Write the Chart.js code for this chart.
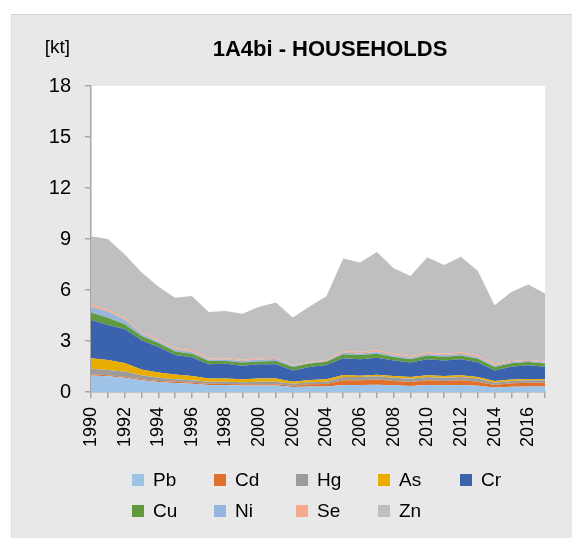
<!DOCTYPE html>
<html><head><meta charset="utf-8">
<script src="https://cdn.jsdelivr.net/npm/chart.js@4/dist/chart.umd.min.js"></script>
<style>
html,body{margin:0;padding:0;background:#fff;}
#wrap{position:relative;width:572px;height:538px;overflow:hidden;}
#bg{position:absolute;left:11px;top:14px;right:0;bottom:0;background:#e8e8e8;border-top:1px solid #d3d3d3;border-left:1px solid #dcdcdc;}
#c{position:absolute;left:0;top:0;}
#legend{position:absolute;left:132px;top:468px;display:grid;grid-template-columns:repeat(5,82px);grid-auto-rows:31px;font-family:'Liberation Sans Narrow','Arial Narrow','Liberation Sans',sans-serif;font-size:19px;color:#000;}
.item{display:flex;align-items:center;height:24px;white-space:nowrap;}
.sw{width:12px;height:12px;margin-right:9px;flex:none;}
</style></head>
<body><div id="wrap"><div id="bg"></div><canvas id="c" width="572" height="538"></canvas><div id="legend"></div></div>
<script>
const years = ['1990','1991','1992','1993','1994','1995','1996','1997','1998','1999','2000','2001','2002','2003','2004','2005','2006','2007','2008','2009','2010','2011','2012','2013','2014','2015','2016','2017'];
const yTicks = [0,3,6,9,12,15,18];
const seriesNames = ['Pb','Cd','Hg','As','Cr','Cu','Ni','Se','Zn'];
const Pb = [0.97,0.92,0.84,0.69,0.59,0.53,0.49,0.41,0.41,0.38,0.38,0.38,0.29,0.33,0.33,0.41,0.41,0.43,0.39,0.35,0.41,0.39,0.41,0.37,0.27,0.31,0.33,0.33];
const Cd = [0.07,0.06,0.06,0.06,0.06,0.07,0.06,0.08,0.06,0.07,0.07,0.07,0.08,0.12,0.14,0.28,0.28,0.30,0.26,0.24,0.28,0.26,0.28,0.24,0.14,0.20,0.22,0.22];
const Hg = [0.33,0.31,0.30,0.23,0.19,0.15,0.14,0.12,0.14,0.12,0.16,0.16,0.12,0.12,0.14,0.19,0.19,0.19,0.19,0.19,0.19,0.19,0.19,0.19,0.14,0.14,0.14,0.14];
const As = [0.62,0.59,0.51,0.35,0.30,0.28,0.25,0.19,0.19,0.18,0.19,0.19,0.12,0.14,0.14,0.12,0.08,0.10,0.10,0.10,0.10,0.10,0.10,0.08,0.10,0.08,0.07,0.06];
const Cr = [2.25,2.06,1.99,1.72,1.51,1.15,1.10,0.83,0.86,0.80,0.83,0.83,0.66,0.76,0.84,0.98,0.96,1.00,0.92,0.85,0.94,0.92,0.94,0.87,0.62,0.76,0.81,0.74];
const Cu = [0.43,0.43,0.28,0.25,0.23,0.20,0.21,0.19,0.16,0.18,0.17,0.19,0.20,0.20,0.19,0.24,0.26,0.23,0.20,0.19,0.22,0.22,0.22,0.21,0.20,0.20,0.19,0.18];
const Ni = [0.33,0.36,0.27,0.12,0.09,0.10,0.10,0.08,0.09,0.09,0.11,0.12,0.06,0.05,0.05,0.10,0.09,0.10,0.10,0.09,0.10,0.09,0.10,0.09,0.08,0.07,0.08,0.06];
const Se = [0.16,0.11,0.12,0.08,0.08,0.10,0.10,0.07,0.08,0.07,0.07,0.08,0.05,0.05,0.05,0.09,0.08,0.10,0.09,0.09,0.09,0.08,0.09,0.09,0.08,0.06,0.06,0.05];
const Zn = [4.00,4.16,3.73,3.55,3.15,2.97,3.20,2.73,2.78,2.71,3.04,3.24,2.80,3.26,3.75,5.44,5.27,5.79,5.03,4.73,5.60,5.22,5.62,4.99,3.47,4.06,4.42,4.02];
const colors = ['#9dc3e6','#e0702b','#9b9b9b','#e8ad00','#3b63ad','#61993e','#95b5df','#f4aa8c','#bfbfbf'];

const seriesData = [Pb,Cd,Hg,As,Cr,Cu,Ni,Se,Zn];
const NARROW = "'Liberation Sans Narrow','Arial Narrow','Liberation Sans',sans-serif";

const datasets = seriesNames.map((n,i)=>({
  label:n, data:seriesData[i], backgroundColor:colors[i], borderColor:'rgba(0,0,0,0)', borderWidth:0,
  pointRadius:0, pointHoverRadius:0, tension:0, fill: i===0 ? 'origin' : '-1'
}));

const bgPlugin = {
  id:'plotBg',
  beforeDraw(chart){
    const {ctx, chartArea:a} = chart;
    ctx.save(); ctx.fillStyle='#ffffff'; ctx.fillRect(a.left,a.top,a.right-a.left,a.bottom-a.top); ctx.restore();
  },
  afterLayout(chart){
    const t = chart.titleBlock;
    if(t){ t.left += 52; t.right += 52; }
  },
  afterDraw(chart){
    const ctx = chart.ctx, y = chart.scales.y;
    ctx.save(); ctx.font = "19px " + NARROW; ctx.fillStyle='#000'; ctx.textAlign='right'; ctx.textBaseline='middle';
    ctx.fillText('[kt]', y.right - 21, 48); ctx.restore();
  }
};

new Chart(document.getElementById('c'), {
  type:'line',
  data:{labels:years, datasets},
  options:{
    responsive:false, animation:false,
    layout:{padding:{left:11,right:27,top:20,bottom:86}},
    plugins:{
      legend:{display:false}, tooltip:{enabled:false},
      filler:{propagate:false},
      title:{display:true, text:'1A4bi - HOUSEHOLDS', color:'#000',
        font:{family:"'Liberation Sans',Arial,sans-serif", size:22, weight:'bold'}, padding:{top:16.8,bottom:22.8}}
    },
    scales:{
      x:{type:'category', offset:false,
        afterFit(s){ s.height = 60; s.paddingLeft = 0; s.paddingRight = 0; },
        border:{color:'#a6a6a6', width:1.5},
        grid:{drawOnChartArea:false, drawTicks:true, tickLength:6, color:'#a6a6a6', lineWidth:1.5},
        ticks:{autoSkip:false, maxRotation:90, minRotation:90, padding:9, color:'#000',
          font:{family:NARROW, size:18},
          callback:(v,i)=> (Number(years[i]) % 2 === 0 ? years[i] : '')}
      },
      y:{stacked:true, min:yTicks[0], max:yTicks[yTicks.length-1],
        afterFit(s){ s.width = 80; },
        afterBuildTicks(s){ s.ticks = yTicks.map(v=>({value:v})); },
        border:{color:'#a6a6a6', width:1.5},
        grid:{drawOnChartArea:false, drawTicks:true, tickLength:6, color:'#a6a6a6', lineWidth:1.5},
        ticks:{padding:14, color:'#000', font:{family:NARROW, size:20}}
      }
    }
  },
  plugins:[bgPlugin]
});

const lg = document.getElementById('legend');
seriesNames.forEach((n,i)=>{
  const it = document.createElement('div'); it.className='item';
  const sw = document.createElement('span'); sw.className='sw'; sw.style.background=colors[i];
  const tx = document.createElement('span'); tx.textContent=n;
  it.appendChild(sw); it.appendChild(tx); lg.appendChild(it);
});
</script>
</body></html>
